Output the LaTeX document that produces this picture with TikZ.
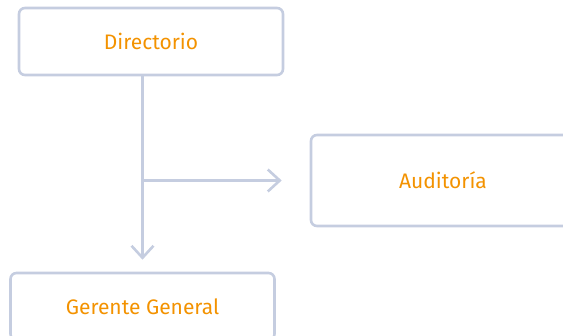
\documentclass[tikz,border=0pt]{standalone}
\usepackage{fontspec}
\setmainfont{Fira Sans}
\usetikzlibrary{arrows.meta}
\definecolor{boxline}{HTML}{C5CDE0}
\definecolor{labelorange}{HTML}{F39200}
\tikzset{
  orgbox/.style={draw=boxline, line width=2.6pt, rounded corners=6pt,
    minimum width=264pt, minimum height=67pt, inner sep=0pt,
    text=labelorange, font=\fontsize{21}{25}\selectfont},
  link/.style={draw=boxline, line width=2.6pt},
}

\begin{document}
\begin{tikzpicture}[x=1pt, y=-1pt, >={Straight Barb[length=12pt,width=22pt]}]
  \useasboundingbox (0,0) rectangle (563,336);
  \clip (0,0) rectangle (563,336);
  \node [orgbox] (dir) at (151,41.5) {Directorio};
  \node [orgbox, minimum height=91pt] (aud) at (443,180.5) {Auditoría};
  \node [orgbox] (gg) at (142.5,306.5) {Gerente General};
  \coordinate (jn) at (gg.north |- aud.west);
  \draw [link, ->] (dir.south -| gg.north) -- ([yshift=12pt]gg.north);
  \draw [link, ->] (jn) -- ([xshift=-28pt]aud.west);
\end{tikzpicture}
\end{document}
